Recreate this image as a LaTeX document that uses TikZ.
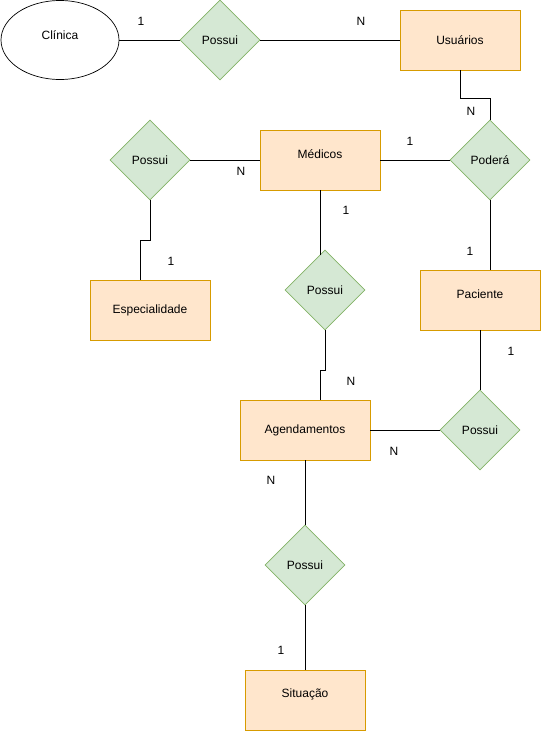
\documentclass[tikz,border=0pt]{standalone}
\usepackage{fontspec}
\setmainfont{Liberation Sans}
\usetikzlibrary{shapes.geometric}
\definecolor{entfill}{HTML}{FFE6CC}
\definecolor{entdraw}{HTML}{D79B00}
\definecolor{relfill}{HTML}{D5E8D4}
\definecolor{reldraw}{HTML}{82B366}
\begin{document}
\begin{tikzpicture}[x=1pt,y=-1pt,
  every node/.style={font=\fontsize{12}{14}\selectfont},
  entity/.style={rectangle,draw=entdraw,fill=entfill,line width=0.9pt,
    minimum width=120pt,minimum height=60pt,inner sep=0pt},
  relation/.style={diamond,draw=reldraw,fill=relfill,line width=0.6pt,
    minimum width=80pt,minimum height=80pt,aspect=1,inner sep=0pt},
  attrib/.style={ellipse,draw=black,line width=0.7pt,
    minimum width=118pt,minimum height=79pt,inner sep=0pt},
  link/.style={draw=black,line width=1pt},
  card/.style={inner sep=0pt},
  raised/.style={yshift=6pt}]
\useasboundingbox (0,0) rectangle (541,731);

% entities and the clinic
\node[attrib] (cli) at (60,40) {};
\node at ([yshift=5pt]cli.center) {Clínica};
\node[entity] (usu) at (460,40) {Usuários};
\node[entity,label={[raised]center:Médicos}] (med) at (320,160) {};
\node[entity] (esp) at (150,310) {Especialidade};
\node[entity,label={[raised]center:Paciente}] (pac) at (480,300) {};
\node[entity,minimum width=130pt] (age) at (305,430) {Agendamentos};
\node[entity,label={[raised]center:Situação}] (sit) at (305,700) {};

% relationships
\node[relation] (r1) at (220,40) {Possui};
\node[relation] (r2) at (150,160) {Possui};
\node[relation] (pod) at (490,160) {Poderá};
\node[relation] (r3) at (325,290) {Possui};
\node[relation] (r4) at (480,430) {Possui};
\node[relation] (r5) at (305,565) {Possui};

% connectors
\draw[link] (cli.east) -- (r1.west);
\draw[link] (r1.east) -- (usu.west);
\draw[link] (usu.south) -- ++(0,28) -| (pod.north);
\draw[link] (med.east) -- (pod.west);
\draw[link] (r2.east) -- (med.west);
\draw[link] (r2.south) -- ++(0,40) -| ([xshift=-10pt]esp.north);
\draw[link] (med.south) -- ([xshift=-5pt,yshift=-5pt]r3.north);
\draw[link] (r3.south) -- ++(0,40) -| ([xshift=15pt]age.north);
\draw[link] (pod.south) -- ([xshift=10pt]pac.north);
\draw[link] (pac.south) -- (r4.north);
\draw[link] (age.east) -- (r4.west);
\draw[link] (age.south) -- (r5.north);
\draw[link] (r5.south) -- (sit.north);

% cardinalities
\node[card] (c1) at (141,21) {1};
\node[card] (c2) at (361,21) {N};
\node[card] (c3) at (471,111) {N};
\node[card] (c4) at (410,141) {1};
\node[card] (c5) at (241,171) {N};
\node[card] (c6) at (346,210) {1};
\node[card] (c7) at (171,261) {1};
\node[card] (c8) at (470,251) {1};
\node[card] (c9) at (511,351) {1};
\node[card] (c10) at (351,381) {N};
\node[card] (c11) at (394,451) {N};
\node[card] (c12) at (271,480) {N};
\node[card] (c13) at (281,650) {1};
\end{tikzpicture}
\end{document}
